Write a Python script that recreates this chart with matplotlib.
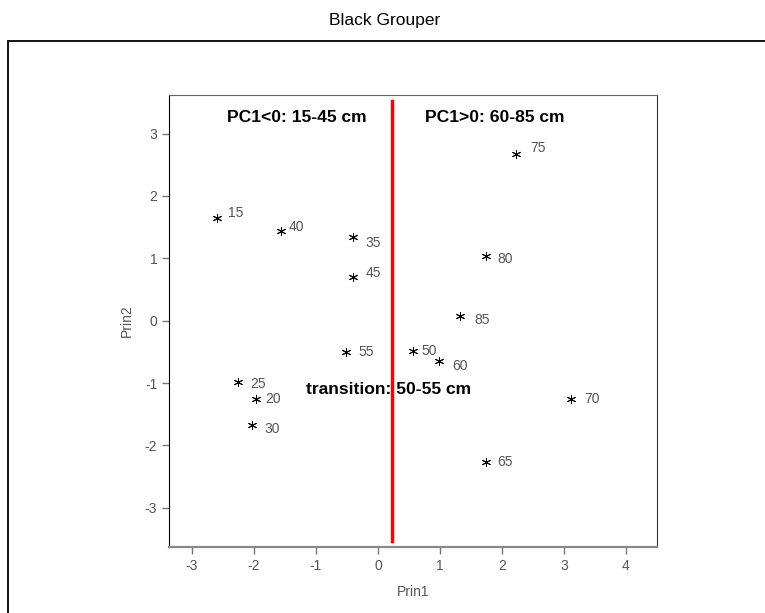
import numpy as np
import matplotlib
matplotlib.use('Agg')
import matplotlib.pyplot as plt
from matplotlib.patches import Rectangle

plt.rcParams['font.family'] = ['Liberation Sans', 'DejaVu Sans']
plt.rcParams['axes.unicode_minus'] = False

# ------------------------------------------------------------------------- #
# PCA scores per length class (cm)
lengths = ['15', '20', '25', '30', '35', '40', '45', '50',
           '55', '60', '65', '70', '75', '80', '85']
prin1 = np.array([-2.59, -1.97, -2.26, -2.03, -0.40, -1.57, -0.40, 0.56,
                  -0.52, 0.99, 1.75, 3.11, 2.23, 1.75, 1.33])
prin2 = np.array([1.64, -1.26, -0.99, -1.67, 1.34, 1.44, 0.70, -0.49,
                  -0.51, -0.64, -2.26, -1.26, 2.68, 1.04, 0.08])
split_x = 0.22

# label offsets in points (dx, dy), SAS-style placement
label_offsets = {'15': (8, 4), '20': (7, 0), '25': (9, -1), '30': (9, -3),
                 '35': (9, -4), '40': (6, 3), '45': (9, 3), '50': (6, 0),
                 '55': (9, 0), '60': (9, -4), '65': (8, 0), '70': (10, 0),
                 '75': (10, 4), '80': (8, -2), '85': (10, -3)}

# ------------------------------------------------------------------------- #
fig = plt.figure(figsize=(7.65, 6.13), dpi=100)
fig.patches.append(Rectangle((8/765, -0.1), 1.2, 1 - 41/613 + 0.1,
                             transform=fig.transFigure, fill=False,
                             edgecolor='black', lw=1.3))
fig.text(385/765, 1 - 20/613, 'Black Grouper', ha='center', va='center',
         fontsize=12.5)

ax = fig.add_axes([169/765, 1 - 547/613, 488/765, 452/613])
# asterisk with a horizontal bar
ax.plot(prin1, prin2, linestyle='none', marker=(6, 2, 0), markersize=6.5,
        markeredgecolor='black', markeredgewidth=0.7)
for lab, x, y in zip(lengths, prin1, prin2):
    ax.annotate(lab, (x, y), xytext=label_offsets[lab],
                textcoords='offset points', ha='left', va='center',
                fontsize=10, color='#555555')

ax.plot([split_x, split_x], [-3.53, 3.52], color='red', lw=2.5)

ax.text(-1.31, 3.26, 'PC1<0: 15-45 cm', ha='center', va='center',
        fontsize=12.6, fontweight='bold')
ax.text(1.88, 3.26, 'PC1>0: 60-85 cm', ha='center', va='center',
        fontsize=12.6, fontweight='bold')
ax.text(0.17, -1.11, 'transition: 50-55 cm', ha='center', va='center',
        fontsize=12.6, fontweight='bold')

ax.set_xlim(-3.37, 4.5)
ax.set_ylim(-3.63, 3.62)
ax.set_xticks(range(-3, 5))
ax.set_yticks(range(-3, 4))
ax.tick_params(colors='#777777', labelcolor='#555555', labelsize=10,
               length=5, width=1, direction='out')
ax.spines['left'].set_color('black')
ax.spines['bottom'].set_color('#888888')
ax.spines['bottom'].set_linewidth(1.6)
ax.spines['top'].set_color('#666666')
ax.spines['right'].set_color('#333333')
ax.set_xlabel('Prin1', fontsize=10, color='#555555', labelpad=9)
ax.set_ylabel('Prin2', fontsize=10, color='#555555', labelpad=8)

fig.savefig('out.png', dpi=100)
